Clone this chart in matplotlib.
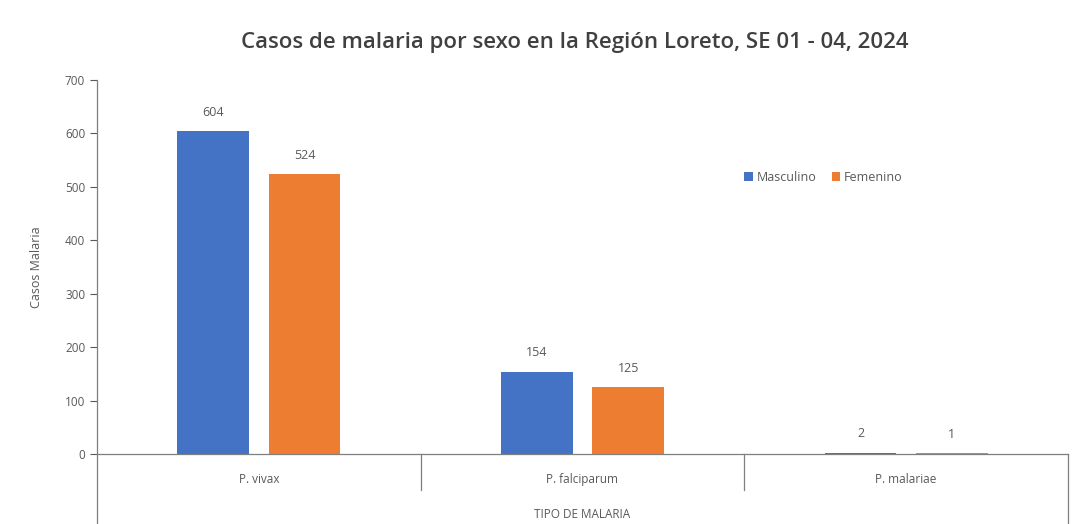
import numpy as np
import matplotlib.pyplot as plt

plt.rcParams['font.family'] = ['Open Sans', 'DejaVu Sans']

# Data
categorias = ['P. vivax', 'P. falciparum', 'P. malariae']
masculino = [604, 154, 2]
femenino = [524, 125, 1]

gris = '#595959'
azul = '#4472C4'
naranja = '#ED7D31'

fig = plt.figure(figsize=(10.76, 5.24), dpi=100)
ax = fig.add_axes([97 / 1076, 70 / 524, 971 / 1076, 374 / 524])

x = np.arange(len(categorias))
ancho = 0.222
b1 = ax.bar(x - 0.141, masculino, ancho, color=azul, label='Masculino')
b2 = ax.bar(x + 0.141, femenino, ancho, color=naranja, label='Femenino')

for barras in (b1, b2):
    ax.bar_label(barras, padding=9, color=gris, fontsize=9)

ax.set_xlim(-0.5, len(categorias) - 0.5)
ax.set_ylim(0, 700)
ax.set_yticks(range(0, 701, 100))
ax.tick_params(axis='y', colors=gris, labelsize=8.5, length=5, width=0.8, direction='out')
ax.tick_params(axis='x', length=0, labelsize=8.5, labelcolor=gris, pad=14)
ax.set_xticks(x)
ax.set_xticklabels(categorias)

for s in ['top', 'right']:
    ax.spines[s].set_visible(False)
for s in ['left', 'bottom']:
    ax.spines[s].set_color('#7f7f7f')
    ax.spines[s].set_linewidth(0.9)

# lineas de la tabla de categorias bajo el eje
trans = ax.get_xaxis_transform()
fondo = -70 / 374
for xs in [0.5, 1.5]:
    ax.plot([xs, xs], [0, -36 / 374], transform=trans, color='#7f7f7f', lw=0.9, clip_on=False)
for xs in [-0.5, 2.5]:
    ax.plot([xs, xs], [0, fondo], transform=trans, color='#7f7f7f', lw=0.9, clip_on=False)

ax.set_ylabel('Casos Malaria', color=gris, fontsize=9, labelpad=16)
ax.text(1, -61 / 374, 'TIPO DE MALARIA', transform=trans, ha='center', va='center',
        color=gris, fontsize=8.5)

ax.legend(loc='center left', bbox_to_anchor=(0.655, 0.74), ncol=2, frameon=False,
          fontsize=9, handlelength=0.7, handleheight=0.7, handletextpad=0.3,
          columnspacing=1.2, labelcolor=gris)

fig.text(575 / 1076, 1 - 43 / 524, 'Casos de malaria por sexo en la Región Loreto, SE 01 - 04, 2024',
         ha='center', va='center', fontsize=16, fontweight='semibold', color='#404040')

fig.savefig('out.png', dpi=100)
